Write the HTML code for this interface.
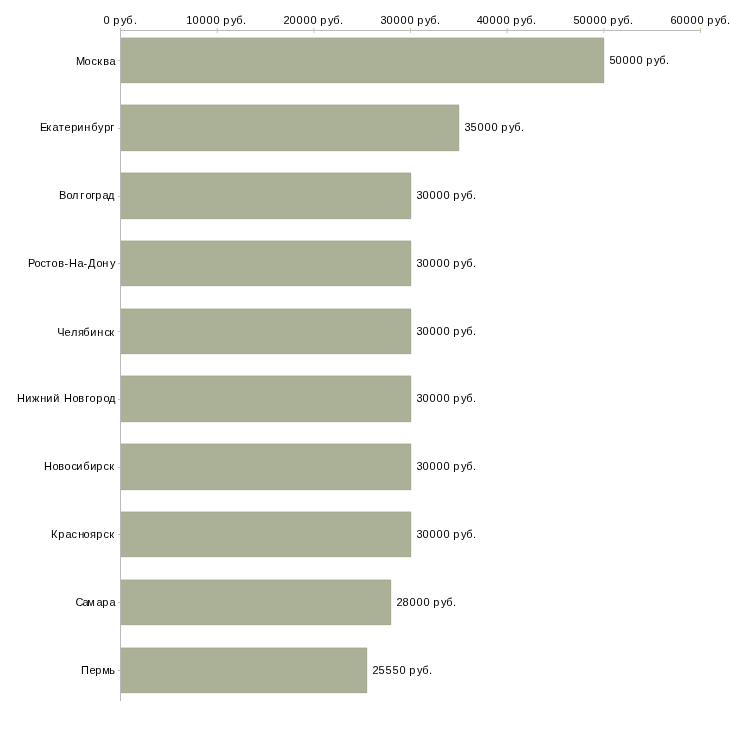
<!DOCTYPE html>
<html><head><meta charset="utf-8"><style>
html,body{margin:0;padding:0;background:#fff;width:730px;height:730px;overflow:hidden}
svg{position:absolute;left:0;top:0;will-change:transform}
svg text{font-family:"Liberation Sans",sans-serif;font-size:11px;fill:#000}
</style></head><body>
<svg width="730" height="730" viewBox="0 0 730 730" shape-rendering="crispEdges">
<rect x="121" y="37" width="483" height="1" fill="#aab197" fill-opacity="0.45"/>
<rect x="121" y="83" width="483" height="1" fill="#aab197" fill-opacity="0.15"/>
<rect x="604" y="38" width="1" height="45" fill="#aab197" fill-opacity="0.18"/>
<rect x="121" y="38" width="483" height="45" fill="#a5ac91"/>
<rect x="121" y="39" width="482" height="43" fill="#aab197"/>
<rect x="121" y="104" width="338" height="1" fill="#aab197" fill-opacity="0.45"/>
<rect x="121" y="151" width="338" height="1" fill="#aab197" fill-opacity="0.15"/>
<rect x="459" y="105" width="1" height="46" fill="#aab197" fill-opacity="0.18"/>
<rect x="121" y="105" width="338" height="46" fill="#a5ac91"/>
<rect x="121" y="106" width="337" height="44" fill="#aab197"/>
<rect x="121" y="172" width="290" height="1" fill="#aab197" fill-opacity="0.45"/>
<rect x="121" y="219" width="290" height="1" fill="#aab197" fill-opacity="0.15"/>
<rect x="411" y="173" width="1" height="46" fill="#aab197" fill-opacity="0.18"/>
<rect x="121" y="173" width="290" height="46" fill="#a5ac91"/>
<rect x="121" y="174" width="289" height="44" fill="#aab197"/>
<rect x="121" y="240" width="290" height="1" fill="#aab197" fill-opacity="0.45"/>
<rect x="121" y="286" width="290" height="1" fill="#aab197" fill-opacity="0.15"/>
<rect x="411" y="241" width="1" height="45" fill="#aab197" fill-opacity="0.18"/>
<rect x="121" y="241" width="290" height="45" fill="#a5ac91"/>
<rect x="121" y="242" width="289" height="43" fill="#aab197"/>
<rect x="121" y="308" width="290" height="1" fill="#aab197" fill-opacity="0.45"/>
<rect x="121" y="354" width="290" height="1" fill="#aab197" fill-opacity="0.15"/>
<rect x="411" y="309" width="1" height="45" fill="#aab197" fill-opacity="0.18"/>
<rect x="121" y="309" width="290" height="45" fill="#a5ac91"/>
<rect x="121" y="310" width="289" height="43" fill="#aab197"/>
<rect x="121" y="375" width="290" height="1" fill="#aab197" fill-opacity="0.45"/>
<rect x="121" y="422" width="290" height="1" fill="#aab197" fill-opacity="0.15"/>
<rect x="411" y="376" width="1" height="46" fill="#aab197" fill-opacity="0.18"/>
<rect x="121" y="376" width="290" height="46" fill="#a5ac91"/>
<rect x="121" y="377" width="289" height="44" fill="#aab197"/>
<rect x="121" y="443" width="290" height="1" fill="#aab197" fill-opacity="0.45"/>
<rect x="121" y="490" width="290" height="1" fill="#aab197" fill-opacity="0.15"/>
<rect x="411" y="444" width="1" height="46" fill="#aab197" fill-opacity="0.18"/>
<rect x="121" y="444" width="290" height="46" fill="#a5ac91"/>
<rect x="121" y="445" width="289" height="44" fill="#aab197"/>
<rect x="121" y="511" width="290" height="1" fill="#aab197" fill-opacity="0.45"/>
<rect x="121" y="557" width="290" height="1" fill="#aab197" fill-opacity="0.15"/>
<rect x="411" y="512" width="1" height="45" fill="#aab197" fill-opacity="0.18"/>
<rect x="121" y="512" width="290" height="45" fill="#a5ac91"/>
<rect x="121" y="513" width="289" height="43" fill="#aab197"/>
<rect x="121" y="579" width="270" height="1" fill="#aab197" fill-opacity="0.45"/>
<rect x="121" y="625" width="270" height="1" fill="#aab197" fill-opacity="0.15"/>
<rect x="391" y="580" width="1" height="45" fill="#aab197" fill-opacity="0.18"/>
<rect x="121" y="580" width="270" height="45" fill="#a5ac91"/>
<rect x="121" y="581" width="269" height="43" fill="#aab197"/>
<rect x="121" y="647" width="246" height="1" fill="#aab197" fill-opacity="0.45"/>
<rect x="121" y="693" width="246" height="1" fill="#aab197" fill-opacity="0.15"/>
<rect x="367" y="648" width="1" height="45" fill="#aab197" fill-opacity="0.18"/>
<rect x="121" y="648" width="246" height="45" fill="#a5ac91"/>
<rect x="121" y="649" width="245" height="43" fill="#aab197"/>
<rect x="120" y="30" width="581" height="1" fill="#bbbbbb"/>
<rect x="120" y="30" width="1" height="671" fill="#bbbbbb"/>
<rect x="120" y="38" width="1" height="45" fill="#b7b7bb"/>
<rect x="120" y="105" width="1" height="46" fill="#b7b7bb"/>
<rect x="120" y="173" width="1" height="46" fill="#b7b7bb"/>
<rect x="120" y="241" width="1" height="45" fill="#b7b7bb"/>
<rect x="120" y="309" width="1" height="45" fill="#b7b7bb"/>
<rect x="120" y="376" width="1" height="46" fill="#b7b7bb"/>
<rect x="120" y="444" width="1" height="46" fill="#b7b7bb"/>
<rect x="120" y="512" width="1" height="45" fill="#b7b7bb"/>
<rect x="120" y="580" width="1" height="45" fill="#b7b7bb"/>
<rect x="120" y="648" width="1" height="45" fill="#b7b7bb"/>
<g shape-rendering="auto">
<rect x="216.67" y="28" width="1" height="5" fill="#c8c8a0"/>
<rect x="313.33" y="28" width="1" height="5" fill="#c8c8a0"/>
<rect x="410.00" y="28" width="1" height="5" fill="#c8c8a0"/>
<rect x="506.67" y="28" width="1" height="5" fill="#c8c8a0"/>
<rect x="603.33" y="28" width="1" height="5" fill="#c8c8a0"/>
<rect x="700.00" y="28" width="1" height="5" fill="#c8c8a0"/>
</g>
<rect x="120" y="28" width="1" height="2" fill="#c8c8a0"/>
<rect x="118" y="60" width="2" height="1" fill="#c8c8a0"/>
<rect x="118" y="128" width="2" height="1" fill="#c8c8a0"/>
<rect x="118" y="196" width="2" height="1" fill="#c8c8a0"/>
<rect x="118" y="263" width="2" height="1" fill="#c8c8a0"/>
<rect x="118" y="331" width="2" height="1" fill="#c8c8a0"/>
<rect x="118" y="399" width="2" height="1" fill="#c8c8a0"/>
<rect x="118" y="467" width="2" height="1" fill="#c8c8a0"/>
<rect x="118" y="534" width="2" height="1" fill="#c8c8a0"/>
<rect x="118" y="602" width="2" height="1" fill="#c8c8a0"/>
<rect x="118" y="670" width="2" height="1" fill="#c8c8a0"/>
<text x="103.57 109.69 113.29 120.97 126.36 134.00" y="24">0 руб.</text>
<text x="186.16 192.57 199.57 206.57 213.57 219.69 223.29 230.97 236.36 243.00" y="24">10000 руб.</text>
<text x="283.45 289.57 296.57 303.57 310.57 316.69 320.29 327.97 333.36 340.00" y="24">20000 руб.</text>
<text x="380.58 386.57 393.57 400.57 407.57 413.69 417.29 424.97 430.36 437.00" y="24">30000 руб.</text>
<text x="476.75 482.57 489.57 496.57 503.57 509.69 513.29 520.97 526.36 533.00" y="24">40000 руб.</text>
<text x="573.56 579.57 586.57 593.57 600.57 606.69 610.29 617.97 623.36 630.00" y="24">50000 руб.</text>
<text x="670.44 676.57 683.57 690.57 697.57 703.69 707.29 714.97 720.36 727.00" y="24">60000 руб.</text>
<text x="609.56 615.57 622.57 629.57 636.57 642.69 646.29 653.97 659.36 666.00" y="64">50000 руб.</text>
<text x="464.58 470.56 477.57 484.57 491.57 497.69 501.29 508.97 514.36 521.00" y="131">35000 руб.</text>
<text x="416.58 422.57 429.57 436.57 443.57 449.69 453.29 460.97 466.36 473.00" y="199">30000 руб.</text>
<text x="416.58 422.57 429.57 436.57 443.57 449.69 453.29 460.97 466.36 473.00" y="267">30000 руб.</text>
<text x="416.58 422.57 429.57 436.57 443.57 449.69 453.29 460.97 466.36 473.00" y="335">30000 руб.</text>
<text x="416.58 422.57 429.57 436.57 443.57 449.69 453.29 460.97 466.36 473.00" y="402">30000 руб.</text>
<text x="416.58 422.57 429.57 436.57 443.57 449.69 453.29 460.97 466.36 473.00" y="470">30000 руб.</text>
<text x="416.58 422.57 429.57 436.57 443.57 449.69 453.29 460.97 466.36 473.00" y="538">30000 руб.</text>
<text x="396.45 402.52 409.57 416.57 423.57 429.69 433.29 440.97 446.36 453.00" y="606">28000 руб.</text>
<text x="372.45 378.56 385.56 392.56 399.57 405.69 409.29 416.97 422.36 429.00" y="674">25550 руб.</text>
<text x="76.10 84.54 91.53 97.26 103.24 109.53" y="65">Москва</text>
<text x="40.10 46.26 52.53 58.81 64.53 71.29 77.24 84.24 91.36 97.97 104.29 110.24" y="131">Екатеринбург</text>
<text x="59.10 66.54 71.94 80.24 85.54 91.24 95.29 102.53 107.89" y="199">Волгоград</text>
<text x="28.10 34.54 40.53 45.81 51.54 58.24 64.51 69.10 77.53 83.51 87.92 96.54 102.24 109.97" y="267">Ростов-На-Дону</text>
<text x="57.14 64.53 70.94 77.91 83.36 90.24 97.24 104.53 109.26" y="336">Челябинск</text>
<text x="17.10 25.24 31.96 40.24 46.24 53.24 59.38 64.10 72.54 78.24 85.24 89.54 96.29 103.54 108.89" y="402">Нижний Новгород</text>
<text x="44.10 52.54 58.24 64.54 71.53 76.24 83.36 90.24 96.29 103.53 109.26" y="470">Новосибирск</text>
<text x="51.10 58.29 65.53 71.53 78.24 83.54 89.91 96.29 103.53 109.26" y="538">Красноярск</text>
<text x="75.44 82.53 87.24 96.53 102.29 109.53" y="606">Самара</text>
<text x="81.11 89.53 95.29 102.24 109.24" y="674">Пермь</text>
</svg>
</body></html>
